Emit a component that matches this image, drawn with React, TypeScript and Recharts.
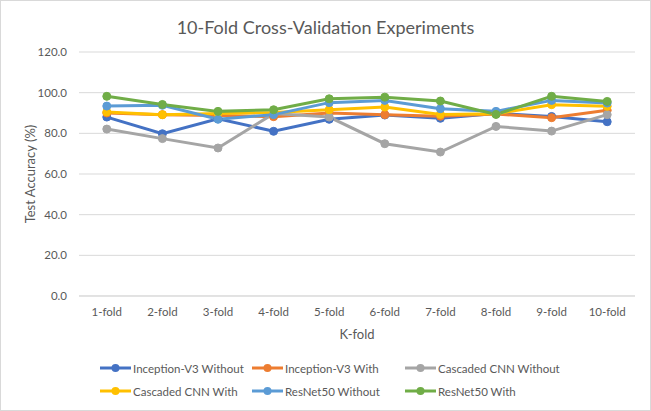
import { LineChart, Line, XAxis, YAxis, CartesianGrid, Legend } from "recharts";

const folds = ["1-fold", "2-fold", "3-fold", "4-fold", "5-fold", "6-fold", "7-fold", "8-fold", "9-fold", "10-fold"];
const inceptionWithout = [88.0, 79.8, 87.2, 81.0, 86.9, 89.0, 87.4, 89.8, 88.3, 85.7];
const inceptionWith = [90.0, 89.2, 88.8, 88.2, 90.0, 89.2, 88.4, 89.5, 87.7, 91.3];
const cascadedWithout = [82.1, 77.4, 72.8, 89.7, 88.0, 74.9, 70.8, 83.4, 81.1, 89.2];
const cascadedWith = [90.5, 89.2, 89.7, 90.3, 91.6, 92.9, 89.3, 89.6, 94.1, 93.3];
const resnetWithout = [93.4, 93.8, 86.9, 89.2, 95.1, 96.2, 92.1, 90.8, 96.2, 94.9];
const resnetWith = [98.2, 94.2, 90.8, 91.6, 97.0, 97.8, 95.9, 89.3, 98.2, 95.7];
const yTicks = [0, 20, 40, 60, 80, 100, 120];

const series = [
  { key: "iv3Without", name: "Inception-V3 Without", color: "#4472C4", values: inceptionWithout },
  { key: "iv3With", name: "Inception-V3 With", color: "#ED7D31", values: inceptionWith },
  { key: "cnnWithout", name: "Cascaded CNN Without", color: "#A5A5A5", values: cascadedWithout },
  { key: "cnnWith", name: "Cascaded CNN With", color: "#FFC000", values: cascadedWith },
  { key: "resWithout", name: "ResNet50 Without", color: "#5B9BD5", values: resnetWithout },
  { key: "resWith", name: "ResNet50 With", color: "#70AD47", values: resnetWith },
];

const data = folds.map((fold, i) => {
  const row: Record<string, string | number> = { fold };
  series.forEach((s) => (row[s.key] = s.values[i]));
  return row;
});

const FONT = "Lato, 'Open Sans', sans-serif";
const TEXT = "#595959";

// legend keeps the series order (recharts sorts its payload)
function LegendGrid() {
  return (
    <div
      style={{
        display: "grid",
        gridTemplateColumns: "152px 153px 220px",
        rowGap: 7,
        paddingLeft: 100,
        fontFamily: FONT,
        fontSize: 11.5,
        color: TEXT,
        whiteSpace: "nowrap",
      }}
    >
      {series.map((s) => (
        <div key={s.key} style={{ display: "flex", alignItems: "center", height: 16 }}>
          <svg width={31} height={10} style={{ marginRight: 2 }}>
            <line x1={0} y1={5} x2={31} y2={5} stroke={s.color} strokeWidth={3} />
            <circle cx={15.5} cy={5} r={4} fill={s.color} />
          </svg>
          <span>{s.name}</span>
        </div>
      ))}
    </div>
  );
}

export default function App() {
  return (
    <div style={{ position: "relative", width: 651, height: 411, background: "#fff" }}>
      <style>{`body{margin:0}`}</style>
      <div
        style={{
          position: "absolute",
          inset: 0,
          border: "1px solid #D9D9D9",
          boxSizing: "border-box",
          pointerEvents: "none",
        }}
      />
      <div
        style={{
          position: "absolute",
          top: 16,
          width: 651,
          textAlign: "center",
          fontFamily: FONT,
          fontSize: 18,
          color: TEXT,
        }}
      >
        10-Fold Cross-Validation Experiments
      </div>
      <LineChart width={651} height={411} data={data} margin={{ top: 52, right: 16, bottom: 70, left: 0 }}>
        <CartesianGrid vertical={false} stroke="#D9D9D9" />
        <XAxis
          dataKey="fold"
          padding={{ left: 27.8, right: 27.8 }}
          axisLine={{ stroke: "#D9D9D9" }}
          tickLine={false}
          tick={{ fontSize: 11.5, fill: TEXT, fontFamily: FONT }}
          tickMargin={6}
          height={45}
          label={{ value: "K-fold", position: "insideBottom", offset: 2, fontSize: 13, fill: TEXT, fontFamily: FONT }}
        />
        <YAxis
          domain={[0, 120]}
          ticks={yTicks}
          width={79}
          axisLine={false}
          tickLine={false}
          tickMargin={6}
          tickFormatter={(v: number) => v.toFixed(1)}
          tick={{ fontSize: 11.5, fill: TEXT, fontFamily: FONT }}
          label={{
            content: ({ viewBox }: any) => {
              const cy = viewBox.y + viewBox.height / 2;
              return (
                <text
                  x={30}
                  y={cy}
                  transform={`rotate(-90 30 ${cy})`}
                  textAnchor="middle"
                  dominantBaseline="central"
                  fontSize={13}
                  fill={TEXT}
                  fontFamily={FONT}
                >
                  Test Accuracy (%)
                </text>
              );
            },
          }}
        />
        <Legend
          verticalAlign="middle"
          layout="horizontal"
          wrapperStyle={{ top: 360, left: 0, width: 651 }}
          content={<LegendGrid />}
        />
        {series.map((s) => (
          <Line
            key={s.key}
            dataKey={s.key}
            name={s.name}
            stroke={s.color}
            strokeWidth={3}
            dot={{ r: 4, fill: s.color, stroke: s.color, strokeWidth: 1 }}
            activeDot={false}
            isAnimationActive={false}
          />
        ))}
      </LineChart>
    </div>
  );
}
